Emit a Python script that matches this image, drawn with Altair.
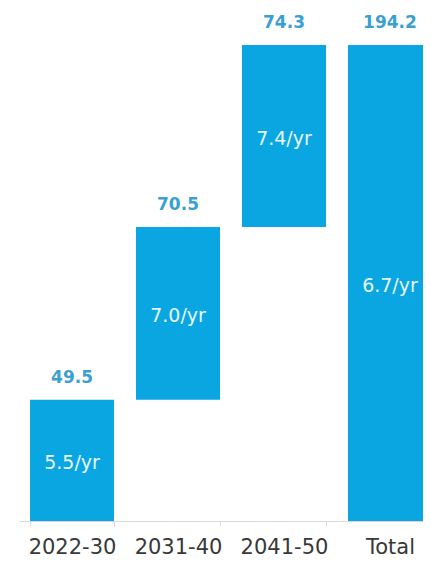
import altair as alt
import pandas as pd

categories = ["2022-30", "2031-40", "2041-50", "Total"]
starts = [0.0, 49.5, 120.0, 0.0]
ends = [49.5, 120.0, 194.2, 194.2]
totals = ["49.5", "70.5", "74.3", "194.2"]
rates = ["5.5/yr", "7.0/yr", "7.4/yr", "6.7/yr"]

df = pd.DataFrame({
    "cat": categories,
    "start": starts,
    "end": ends,
    "total": totals,
    "rate": rates,
})

BAR = "#0AA6E1"
LABEL = "#3AA0D2"

x = alt.X(
    "cat:N",
    sort=categories,
    title=None,
    scale=alt.Scale(paddingInner=0.2075, paddingOuter=0.104),
    axis=alt.Axis(
        labelAngle=0,
        labelFont="DejaVu Sans",
        labelFontSize=21,
        labelColor="#383838",
        labelPadding=10,
        tickBand="extent",
        tickColor="#D9D9D9",
        tickSize=5,
        domainColor="#D9D9D9",
        domainWidth=1,
        grid=False,
    ),
)
yscale = alt.Scale(domain=[0, 207.26], nice=False, zero=True)

base = alt.Chart(df)

bars = base.mark_bar(color=BAR).encode(
    x=x,
    y=alt.Y("start:Q", scale=yscale, axis=None),
    y2="end:Q",
)

top_labels = base.mark_text(
    font="DejaVu Sans", fontWeight="bold", fontSize=17, color=LABEL,
    baseline="alphabetic", dy=-17,
).encode(
    x=alt.X("cat:N", sort=categories),
    y=alt.Y("end:Q", scale=yscale),
    text="total:N",
)

inner_labels = base.transform_calculate(
    mid="(datum.start + datum.end) / 2"
).mark_text(
    font="DejaVu Sans", fontSize=19, color="#E6F6FC", baseline="middle", dy=3,
).encode(
    x=alt.X("cat:N", sort=categories),
    y=alt.Y("mid:Q", scale=yscale),
    text="rate:N",
)

chart = alt.layer(bars, top_labels, inner_labels).properties(
    width=424,
    height=508,
    background="white",
    autosize=alt.AutoSizeParams(type="none"),
    padding={"left": 11, "top": 5, "right": -20, "bottom": 41},
).configure_view(stroke=None)

chart.save("out.html", embed_options={"renderer": "svg", "actions": False})
